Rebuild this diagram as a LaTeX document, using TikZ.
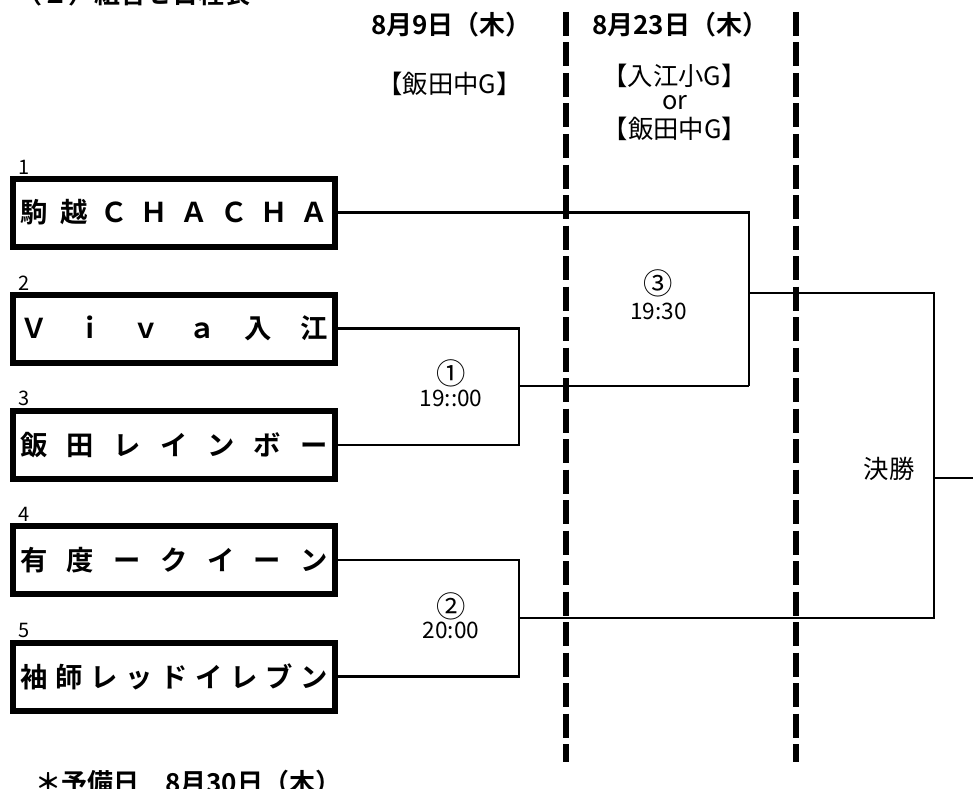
\documentclass[tikz,border=0pt]{standalone}
\usepackage{fontspec}
\setmainfont{Noto Sans CJK JP}[BoldFont={Noto Sans CJK JP Bold}]
\begin{document}
\begin{tikzpicture}[x=0.75pt,y=-0.75pt,
  teambox/.style={draw, line width=4.5pt, minimum width=241.5pt, minimum height=51pt, inner sep=0pt,
    font=\fontsize{20.5pt}{24pt}\selectfont\bfseries},
  numlbl/.style={inner sep=0pt, anchor=base west, font=\fontsize{15pt}{17pt}\selectfont},
  headtxt/.style={inner sep=0pt, anchor=west, font=\fontsize{19.5pt}{23pt}\selectfont\bfseries},
  venue/.style={inner sep=0pt, font=\fontsize{19pt}{22pt}\selectfont},
  timelbl/.style={inner sep=0pt, font=\fontsize{17pt}{20pt}\selectfont},
  circlbl/.style={inner sep=0pt, font=\fontsize{22pt}{24pt}\selectfont},
  conn/.style={line width=1.6pt},
  dateline/.style={line width=4.2pt, dash pattern=on 18pt off 4.875pt}]
\useasboundingbox (0,0) rectangle (973,788);
\clip (0,0) rectangle (973,788);
\fill[white] (0,0) rectangle (973,788);

% heading, cut by the top edge
\node[headtxt, anchor=base west] (title) at (16,4) {（２）組合せ日程表};

% date headers
\node[headtxt] (d1) at (371,25) {8月9日（木）};
\node[headtxt] (d2) at (592,25) {8月23日（木）};

% venues
\node[venue] (v1) at (449.5,84) {【飯田中G】};
\node[venue] (v2a) at (674.5,76) {【入江小G】};
\node[venue, anchor=base] (v2b) at (675,110) {or};
\node[venue] (v2c) at (675,129) {【飯田中G】};

% dashed day separators
\coordinate (s1t) at (566,12);
\coordinate (s1b) at (566,762);
\coordinate (s2t) at (796,12);
\coordinate (s2b) at (796,762);
\draw[dateline] (s1t) -- (s1b);
\draw[dateline] (s2t) -- (s2b);

% team boxes
\node[teambox] (t1) at (174,212.5) {\makebox[231pt]{駒\hfill 越\hfill Ｃ\hfill Ｈ\hfill Ａ\hfill Ｃ\hfill Ｈ\hfill Ａ}};
\node[teambox] (t2) at (174,328.5) {\makebox[231pt]{Ｖ\hfill ｉ\hfill ｖ\hfill ａ\hfill 入\hfill 江}};
\node[teambox] (t3) at (174,445) {\makebox[231pt]{飯\hfill 田\hfill レ\hfill イ\hfill ン\hfill ボ\hfill ー}};
\node[teambox] (t4) at (174,560) {\makebox[231pt]{有\hfill 度\hfill ー\hfill ク\hfill イ\hfill ー\hfill ン}};
\node[teambox] (t5) at (174,676.5) {\makebox[231pt]{袖\hfill 師\hfill レ\hfill ッ\hfill ド\hfill イ\hfill レ\hfill ブ\hfill ン}};

% seed numbers
\node[numlbl] (n1) at (18,174) {1};
\node[numlbl] (n2) at (18,290) {2};
\node[numlbl] (n3) at (18,405.5) {3};
\node[numlbl] (n4) at (18,521.5) {4};
\node[numlbl] (n5) at (18,637.5) {5};

% bracket coordinates
\coordinate (m1top) at (519,328.5);
\coordinate (m1bot) at (519,445);
\coordinate (m1out) at (519,386);
\coordinate (m2top) at (519,560);
\coordinate (m2bot) at (519,676.5);
\coordinate (m2out) at (519,618);
\coordinate (m3top) at (749,212.5);
\coordinate (m3bot) at (749,386);
\coordinate (m3out) at (749,293);
\coordinate (ftop) at (934,293);
\coordinate (fbot) at (934,618);
\coordinate (fout) at (934,478);
\coordinate (fend) at (973,478);

\draw[conn] (t2.east) -- (m1top) -- (m1bot) -- (t3.east);
\draw[conn] (t4.east) -- (m2top) -- (m2bot) -- (t5.east);
\draw[conn] (m1out) -- (m3bot);
\draw[conn] (t1.east) -- (m3top) -- (m3bot);
\draw[conn] (m3out) -- (ftop) -- (fbot) -- (m2out);
\draw[conn] (fout) -- (fend);

% match labels
\node[circlbl] (g1) at (451,373) {①};
\node[timelbl] (g1t) at (451,398.5) {19::00};
\node[circlbl] (g2) at (451,606) {②};
\node[timelbl] (g2t) at (451,630) {20:00};
\node[circlbl] (g3) at (658.5,283) {③};
\node[timelbl] (g3t) at (658.5,311) {19:30};
\node[venue] (fin) at (889,469) {決勝};

% note, cut by the bottom edge
\node[headtxt] (note) at (35,783) {＊予備日　8月30日（木）};
\end{tikzpicture}
\end{document}
